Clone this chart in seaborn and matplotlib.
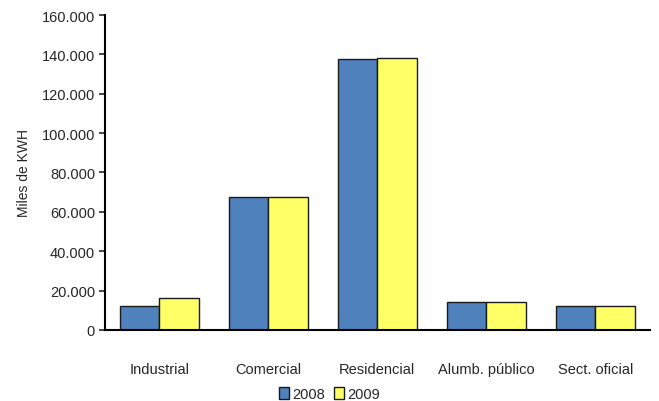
import matplotlib.pyplot as plt
import matplotlib.ticker as mticker
import seaborn as sns
import pandas as pd

# Consumo por sector (miles de KWH)
sectores = ["Industrial", "Comercial", "Residencial", "Alumb. público", "Sect. oficial"]
anios = ["2008", "2009"]
consumo_2008 = [12100, 67500, 137700, 14300, 12100]
consumo_2009 = [16400, 67500, 138400, 14300, 12100]
colores = ["#4F81BD", "#FFFF66"]

df = pd.DataFrame({
    "sector": sectores * 2,
    "anio": [anios[0]] * len(sectores) + [anios[1]] * len(sectores),
    "valor": consumo_2008 + consumo_2009,
})

sns.set_style("white")
plt.rcParams['font.family'] = ['Liberation Sans', 'DejaVu Sans']

fig = plt.figure(figsize=(6.59, 4.02), dpi=100)
ax = fig.add_axes([0.159, 0.177, 0.827, 0.783])

sns.barplot(data=df, x="sector", y="valor", hue="anio", palette=colores,
            width=0.72, edgecolor="#1a1a1a", linewidth=1.0, saturation=1,
            ax=ax, legend=True)

ax.set_ylim(0, 160000)
ax.set_yticks(range(0, 160001, 20000))
ax.yaxis.set_major_formatter(mticker.FuncFormatter(
    lambda v, p: "0" if v == 0 else f"{int(v):,}".replace(",", ".")))

for s in ["top", "right"]:
    ax.spines[s].set_visible(False)
for s in ["left", "bottom"]:
    ax.spines[s].set_color("black")
    ax.spines[s].set_linewidth(1.5)

ax.tick_params(axis="y", left=True, length=4, width=1.2, labelsize=10.5, pad=3)
ax.tick_params(axis="x", bottom=False, labelsize=10.5, pad=20)
ax.set_xlabel("")
ax.set_ylabel("Miles de KWH", fontsize=10, labelpad=8)

handles, labels = ax.get_legend_handles_labels()
ax.get_legend().remove()
fig.legend(handles, labels, loc="center", bbox_to_anchor=(0.5, 0.018),
           ncol=2, frameon=False, fontsize=10.5, handlelength=0.7,
           handleheight=0.9, handletextpad=0.25, columnspacing=0.6)

fig.savefig("out.png", dpi=100)
